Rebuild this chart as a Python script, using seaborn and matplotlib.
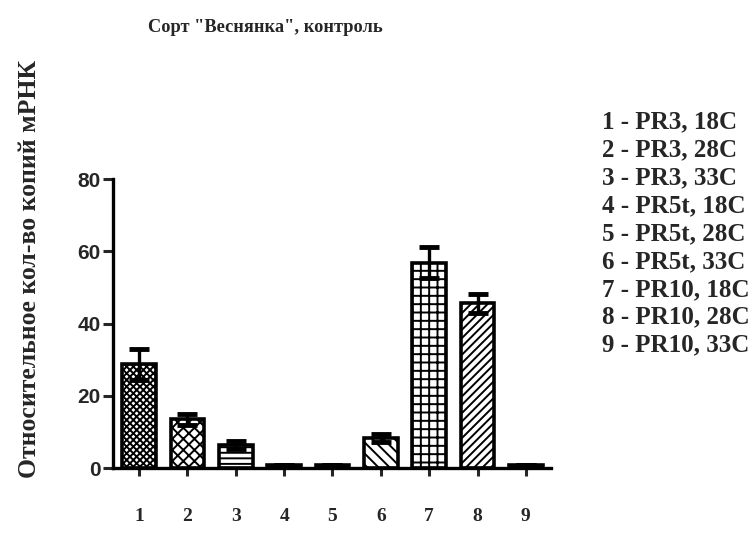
import matplotlib
matplotlib.use("Agg")
import matplotlib.pyplot as plt
import seaborn as sns
import pandas as pd
import numpy as np

categories = ["1", "2", "3", "4", "5", "6", "7", "8", "9"]
values = [28.7, 13.5, 6.5, 0.8, 0.8, 8.3, 56.8, 45.6, 0.8]
errors = [4.3, 1.5, 1.1, 0.0, 0.0, 1.1, 4.3, 2.7, 0.0]
legend_lines = ["1 - PR3, 18C", "2 - PR3, 28C", "3 - PR3, 33C",
                "4 - PR5t, 18C", "5 - PR5t, 28C", "6 - PR5t, 33C",
                "7 - PR10, 18C", "8 - PR10, 28C", "9 - PR10, 33C"]
hatches = ["xxxxx", "xxx", "---", "", "", "\\\\\\", "++", "////", ""]
title = 'Сорт "Веснянка", контроль'
ylabel = "Относительное кол-во копий мРНК"
yticks = [0, 20, 40, 60, 80]

sns.set_theme(style="ticks")
plt.rcParams["hatch.linewidth"] = 1.4
plt.rcParams["font.family"] = ["Liberation Serif", "DejaVu Serif"]

df = pd.DataFrame({"cat": categories, "val": values})

fig = plt.figure(figsize=(7.55, 5.35), dpi=100)
ax = fig.add_axes([0.1497, 0.1252, 0.5801, 0.5402])

sns.barplot(data=df, x="cat", y="val", ax=ax, color="white",
            edgecolor="black", linewidth=2.6, width=0.70, errorbar=None,
            zorder=2)
for patch, h in zip(ax.patches, hatches):
    patch.set_hatch(h)
    patch.set_facecolor("white")

xs = np.arange(len(categories))
ax.errorbar(xs, values, yerr=errors, fmt="none", ecolor="black",
            elinewidth=2.4, capsize=7, capthick=3.5, zorder=3)

ax.set_xlim(-0.54, 8.52)
ax.set_ylim(0, 80)
ax.set_yticks(yticks)
ax.set_yticklabels([str(t) for t in yticks], fontfamily="Liberation Sans",
                   fontweight="bold", fontsize=15)
ax.set_xticks(xs)
ax.set_xticklabels(categories, fontweight="bold", fontsize=14)
ax.tick_params(axis="y", length=7, width=2.2, pad=2)
ax.tick_params(axis="x", length=6, width=2.2, pad=23)
sns.despine(ax=ax)
for s in ["left", "bottom"]:
    ax.spines[s].set_linewidth(2.4)
    ax.spines[s].set_color("black")
ax.set_xlabel("")
ax.set_ylabel(ylabel, fontweight="bold", fontsize=18.5)
ax.yaxis.set_label_coords(-0.165, 0.689)

fig.text(0.352, 0.948, title, ha="center", va="center",
         fontweight="bold", fontsize=13.2)
fig.text(0.797, 0.793, "\n".join(legend_lines), ha="left", va="top",
         fontweight="bold", fontsize=18, linespacing=1.27)

fig.savefig("out.png", dpi=100)
